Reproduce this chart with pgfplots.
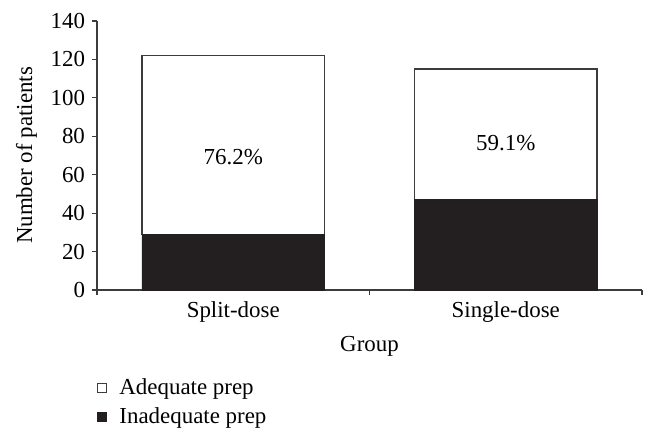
\documentclass[border=0pt]{standalone}
\usepackage{fontspec}
\setmainfont{Liberation Serif}
\usepackage{pgfplots}
\pgfplotsset{compat=1.18}
\usetikzlibrary{calc}
\definecolor{barblack}{RGB}{35,31,32}
\definecolor{axisgray}{RGB}{60,60,60}

\begin{document}
\begin{tikzpicture}
\begin{axis}[
    name=ax,
    scale only axis,
    width=272.5bp, height=134.5bp,
    xmin=0, xmax=2, ymin=0, ymax=140,
    ybar stacked, bar width=0.67,
    axis lines*=left,
    axis line style={axisgray, line width=0.6pt},
    xtick={0.5,1.5}, xticklabels={Split-dose, Single-dose},
    major x tick style={draw=none},
    minor xtick={0,1,2},
    minor tick length=2.5bp,
    ytick={0,20,...,140},
    major tick length=2.5bp,
    tick align=outside,
    tick style={axisgray, line width=0.6pt},
    /pgf/number format/assume math mode=true,
    ticklabel style={font=\fontsize{11.5}{13}\selectfont},
    label style={font=\fontsize{11.5}{13}\selectfont},
    xlabel={Group},
    ylabel={Number of patients},
    xlabel style={yshift=0bp},
    reverse legend,
    legend cell align=left,
    legend style={at={(0,0)}, anchor=north west, yshift=-40bp, xshift=-3bp,
        draw=none, fill=none, font=\fontsize{11.5}{13}\selectfont,
        row sep=1.2bp},
    legend image code/.code={
        \draw[#1, line width=0.5pt] (0bp,-2.25bp) rectangle (4.5bp,2.25bp);
        \path (8.5bp,0bp);
    },
    clip=false,
    after end axis/.code={
        \node[font=\fontsize{11.5}{13}\selectfont] at (axis cs:0.5,69) {76.2\%};
        \node[font=\fontsize{11.5}{13}\selectfont] at (axis cs:1.5,76.5) {59.1\%};
    },
]
\addplot[fill=barblack, draw=barblack] coordinates {(0.5,29) (1.5,47)};
\addlegendentry{Inadequate prep}
\addplot[fill=white, draw=axisgray, line width=0.6pt] coordinates {(0.5,93) (1.5,68)};
\addlegendentry{Adequate prep}
\end{axis}
\pgfresetboundingbox
\path[use as bounding box] ($(ax.south west)+(-48.5bp,-76bp)$) rectangle ($(ax.north east)+(7.5bp,10.5bp)$);
\end{tikzpicture}
\end{document}
